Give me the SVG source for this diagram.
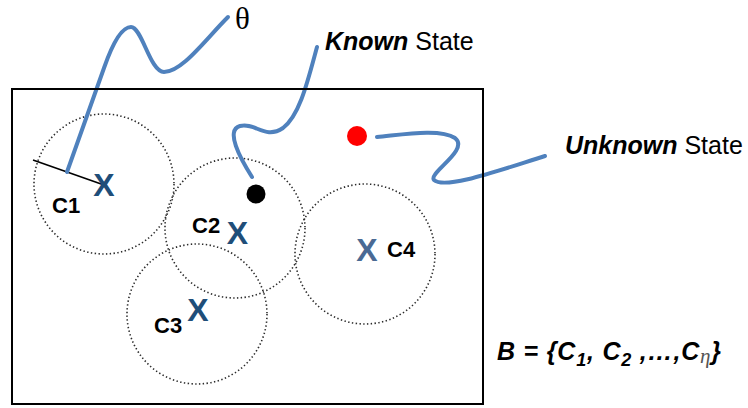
<svg xmlns="http://www.w3.org/2000/svg" width="748" height="408" viewBox="0 0 748 408">
<defs>
<style>
.circ{fill:none;stroke:#2b2b2b;stroke-width:1.6;stroke-dasharray:1.4 2.4}
.blue{fill:none;stroke:#4f81bd;stroke-width:4;stroke-linecap:round;stroke-linejoin:round}
.lbl{font-family:"Liberation Sans",Arial,sans-serif;font-weight:bold;font-size:22px;fill:#000}
.x{font-family:"Liberation Sans",Arial,sans-serif;font-weight:bold;font-size:32px;text-anchor:middle;fill:#1f4e79}
.t{font-family:"Liberation Sans",Arial,sans-serif;font-size:25px;fill:#000}
.bi{font-weight:bold;font-style:italic}
</style>
<radialGradient id="g4" cx="0.45" cy="0.45" r="0.6">
<stop offset="0" stop-color="#fbf7f7"/>
<stop offset="1" stop-color="#faf5f5"/>
</radialGradient>
</defs>
<rect width="748" height="408" fill="#fff"/>
<rect x="12" y="89" width="471" height="315" fill="#fff"/>
<g id="C4">
<circle cx="365" cy="254" r="70" fill="url(#g4)" class="circ"/>
<text class="x" x="367" y="261" style="fill:#4a6a94">X</text>
<text class="lbl" x="387" y="257">C4</text>
</g>
<g id="C3">
<circle cx="197" cy="314" r="70" class="circ"/>
<text class="x" x="198" y="320.5">X</text>
<text class="lbl" x="154" y="333">C3</text>
</g>
<g id="C2">
<circle cx="235" cy="228" r="70" class="circ"/>
<text class="x" x="237.5" y="243.5">X</text>
<text class="lbl" x="192" y="233">C2</text>
</g>
<g id="C1">
<circle cx="104" cy="184" r="70" class="circ"/>
<line x1="33" y1="160" x2="104" y2="185" stroke="#000" stroke-width="1.6"/>
<text class="x" x="104" y="196">X</text>
<text class="lbl" x="52" y="213">C1</text>
</g>
<g id="known">
<circle cx="256" cy="194" r="9.5" fill="#000"/>
</g>
<g id="unknown">
<circle cx="357" cy="136" r="10" fill="#f00"/>
</g>
<g id="connectors">
<path class="blue" d="M67,172 L104,68 C112,45 121,27 131,27 C142,27 150,72 164,72 C182,72 205,40 228,17"/>
<path class="blue" d="M252,177 C240,158 225,130 240,126 C255,122 265,140 283,128 C300,115 308,80 317,47"/>
<path class="blue" d="M377,137 C400,135 440,128 455,138 C470,150 428,173 434,180 C445,190 500,170 545,156"/>
</g>
<rect x="12" y="89" width="471" height="315" fill="none" stroke="#000" stroke-width="2"/>
<g id="theta">
<text x="235" y="29" font-family="Liberation Serif,'Times New Roman',serif" font-size="31" fill="#000">θ</text>
</g>
<g id="known-label">
<text class="t" x="325" y="50"><tspan class="bi">Known</tspan> State</text>
</g>
<g id="unknown-label">
<text class="t" x="565" y="154"><tspan class="bi">Unknown</tspan> State</text>
</g>
<g id="set">
<text class="t bi" x="497" y="360" letter-spacing="0.8">B = {C<tspan dy="6" font-size="18">1</tspan><tspan dy="-6">, C</tspan><tspan dy="6" font-size="18">2</tspan><tspan dy="-6"> ,…,C</tspan><tspan dy="3" font-family="Liberation Serif,serif" font-weight="normal" font-size="21" fill="#555">η</tspan><tspan dy="-3">}</tspan></text>
</g>
</svg>
